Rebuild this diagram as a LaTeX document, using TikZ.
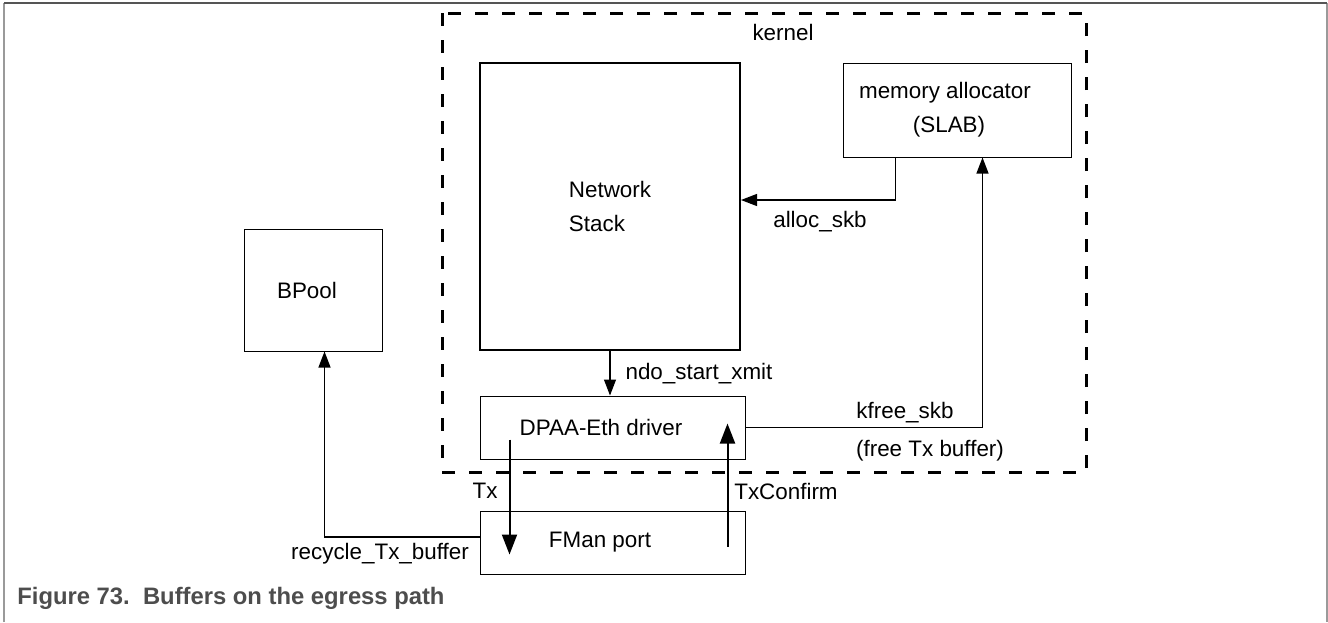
\documentclass[tikz,border=0pt]{standalone}
\usepackage{fontspec}
\setmainfont{Liberation Sans}
\usepackage{xcolor}
\usetikzlibrary{positioning,arrows.meta,calc}
\definecolor{cFrame}{HTML}{9A9A9A}
\definecolor{cFrameTop}{HTML}{555555}
\definecolor{cCaption}{HTML}{4D4D4D}

\begin{document}
\begin{tikzpicture}[x=0.5pt,y=-0.5pt,font=\fontsize{11.2}{17}\selectfont,
  box/.style={draw,line width=0.5pt,inner sep=0pt,
              minimum width=132.5pt,minimum height=31.5pt},
  stackbox/.style={draw,line width=1pt,align=left,inner sep=0pt},
  ar/.style={-{Triangle[length=8pt,width=6pt]},line width=0.6pt},
  arbig/.style={-{Triangle[length=10pt,width=7.5pt]},line width=1pt},
  lbl/.style={inner sep=0pt},
  kernelline/.style={line width=1.5pt,dash pattern=on 6.5pt off 7pt}]

\useasboundingbox (0,0) rectangle (1328,622);

% page frame
\draw[cFrame,line width=0.6pt] (4,622) -- (4,3);
\draw[cFrame,line width=0.6pt] (1327,3) -- (1327,622);
\draw[cFrameTop,line width=0.6pt] (4,3) -- (1327,3);

% kernel area
\draw[kernelline] (442,13) rectangle (1086,472);
\node[lbl] (kernel) at (783,32.5) {kernel};

\node[stackbox,minimum width=130pt,minimum height=143.5pt] (nstack)
  at (610,206.5) {Network\\Stack};
\node[box,align=center,minimum width=114pt,minimum height=47pt] (memalloc)
  at (957,110) {memory allocator\hspace*{12pt}\\(SLAB)\hspace*{8pt}};
\node[box] (dpaa) at (612.5,427.5) {DPAA-Eth driver\hspace*{11.5pt}};
\node[box,below=25.5pt of dpaa] (fman) {FMan port\hspace*{12.5pt}};
\node[box,minimum width=69pt,minimum height=61pt] (bpool)
  at (313,290) {BPool\hspace*{6pt}};

\draw[ar] ($(memalloc.south west)+(53,0)$) |- ($(nstack.east)+(0,-6.5)$);
\node[lbl] (lalloc) at (820,222) {alloc\_skb};

\draw[ar] (nstack.south) -- (nstack.south |- dpaa.north);
\node[lbl] (lndo) at (699,374) {ndo\_start\_xmit};

\draw[ar] (dpaa.east) -| ($(memalloc.south west)+(140,0)$);
\node[lbl] (lkfree) at (905,413) {kfree\_skb};
\node[lbl] (lfreetx) at (930,451) {(free Tx buffer)};

\draw[arbig] ($(dpaa.south west)+(30,-20)$) -- ($(fman.south west)+(30,-20)$);
\node[lbl] (ltx) at (485,491) {Tx};

\draw[arbig] ($(fman.south east)+(-18,-28)$) -- ($(dpaa.south east)+(-18,-36)$);
\node[lbl] (ltxconf) at (786,491.5) {TxConfirm};

\draw[ar] ($(fman.west)+(0,-5.5)$) -| ($(bpool.south west)+(81,0)$);
\node[lbl] (lrecycle) at (380,554) {recycle\_Tx\_buffer};

% caption
\node[lbl,anchor=west,text=cCaption,font=\bfseries\fontsize{11.9}{14}\selectfont]
  (caption) at (17,598) {Figure 73.\ \ Buffers on the egress path};
\end{tikzpicture}
\end{document}
